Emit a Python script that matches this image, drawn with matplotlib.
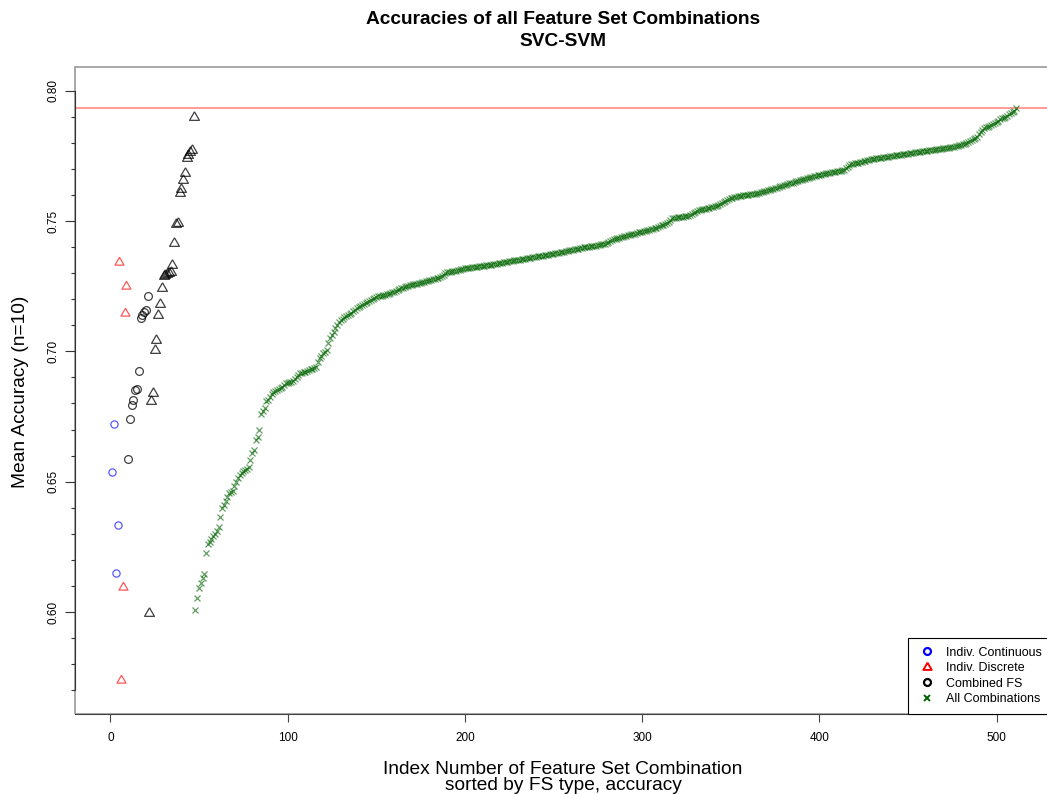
import numpy as np
import matplotlib
matplotlib.use("Agg")
import matplotlib.pyplot as plt
from matplotlib.lines import Line2D
from matplotlib.patches import Rectangle

plt.rcParams['font.family'] = ['Liberation Sans', 'DejaVu Sans']

# accuracies, in plotting order
indiv_cont = [0.6536, 0.6722, 0.6149, 0.6334]
indiv_disc = [0.7344, 0.5741, 0.6097, 0.7149, 0.7250]
comb_cont = [0.6588, 0.6742, 0.6795, 0.6815, 0.6853, 0.6857, 0.6924, 0.7128,
             0.7138, 0.7151, 0.7160, 0.7212]
comb_disc = [0.5997, 0.6808, 0.6841, 0.7007, 0.7042, 0.7138, 0.7180, 0.7244,
             0.7288, 0.7292, 0.7296, 0.7300, 0.7303, 0.7333, 0.7417, 0.7488,
             0.7491, 0.7607, 0.7622, 0.7658, 0.7686, 0.7741, 0.7754, 0.7763,
             0.7773, 0.7899]
all_combos = [
    0.6008, 0.6053, 0.6091, 0.6110, 0.6129, 0.6146, 0.6225, 0.6262, 0.6270, 0.6281,
    0.6292, 0.6300, 0.6312, 0.6325, 0.6366, 0.6398, 0.6411, 0.6425, 0.6440, 0.6456,
    0.6460, 0.6463, 0.6485, 0.6500, 0.6513, 0.6526, 0.6535, 0.6541, 0.6545, 0.6550,
    0.6558, 0.6583, 0.6609, 0.6622, 0.6660, 0.6673, 0.6698, 0.6760, 0.6771, 0.6782,
    0.6808, 0.6815, 0.6826, 0.6835, 0.6845, 0.6849, 0.6852, 0.6856, 0.6861, 0.6865,
    0.6871, 0.6877, 0.6880, 0.6882, 0.6884, 0.6888, 0.6893, 0.6903, 0.6910, 0.6916,
    0.6918, 0.6920, 0.6922, 0.6925, 0.6928, 0.6931, 0.6934, 0.6937, 0.6941, 0.6958,
    0.6975, 0.6984, 0.6993, 0.6999, 0.7005, 0.7031, 0.7050, 0.7063, 0.7076, 0.7088,
    0.7100, 0.7112, 0.7120, 0.7126, 0.7131, 0.7136, 0.7140, 0.7145, 0.7149, 0.7154,
    0.7160, 0.7165, 0.7170, 0.7174, 0.7179, 0.7183, 0.7187, 0.7191, 0.7195, 0.7198,
    0.7202, 0.7206, 0.7210, 0.7211, 0.7213, 0.7214, 0.7216, 0.7218, 0.7219, 0.7221,
    0.7223, 0.7226, 0.7229, 0.7233, 0.7236, 0.7239, 0.7242, 0.7244, 0.7247, 0.7249,
    0.7252, 0.7255, 0.7256, 0.7258, 0.7259, 0.7260, 0.7262, 0.7263, 0.7265, 0.7266,
    0.7268, 0.7270, 0.7272, 0.7274, 0.7276, 0.7278, 0.7280, 0.7282, 0.7284, 0.7288,
    0.7294, 0.7299, 0.7303, 0.7305, 0.7306, 0.7308, 0.7309, 0.7310, 0.7312, 0.7313,
    0.7315, 0.7316, 0.7318, 0.7319, 0.7320, 0.7321, 0.7322, 0.7323, 0.7324, 0.7325,
    0.7326, 0.7327, 0.7328, 0.7329, 0.7330, 0.7331, 0.7332, 0.7333, 0.7335, 0.7336,
    0.7337, 0.7338, 0.7339, 0.7340, 0.7341, 0.7343, 0.7344, 0.7345, 0.7346, 0.7348,
    0.7349, 0.7350, 0.7351, 0.7352, 0.7354, 0.7355, 0.7356, 0.7357, 0.7358, 0.7360,
    0.7361, 0.7362, 0.7363, 0.7364, 0.7365, 0.7366, 0.7367, 0.7368, 0.7370, 0.7371,
    0.7372, 0.7374, 0.7375, 0.7376, 0.7378, 0.7379, 0.7380, 0.7381, 0.7383, 0.7384,
    0.7385, 0.7387, 0.7388, 0.7390, 0.7391, 0.7392, 0.7394, 0.7395, 0.7397, 0.7399,
    0.7400, 0.7401, 0.7402, 0.7403, 0.7404, 0.7405, 0.7406, 0.7407, 0.7409, 0.7410,
    0.7412, 0.7413, 0.7414, 0.7418, 0.7422, 0.7426, 0.7430, 0.7432, 0.7434, 0.7436,
    0.7437, 0.7439, 0.7441, 0.7443, 0.7445, 0.7447, 0.7449, 0.7450, 0.7452, 0.7454,
    0.7456, 0.7458, 0.7459, 0.7461, 0.7463, 0.7465, 0.7467, 0.7468, 0.7470, 0.7472,
    0.7474, 0.7477, 0.7480, 0.7483, 0.7486, 0.7489, 0.7491, 0.7497, 0.7504, 0.7510,
    0.7512, 0.7513, 0.7514, 0.7515, 0.7516, 0.7517, 0.7518, 0.7519, 0.7521, 0.7523,
    0.7526, 0.7530, 0.7534, 0.7538, 0.7542, 0.7544, 0.7545, 0.7547, 0.7548, 0.7550,
    0.7551, 0.7553, 0.7554, 0.7556, 0.7558, 0.7561, 0.7564, 0.7568, 0.7572, 0.7576,
    0.7580, 0.7584, 0.7587, 0.7590, 0.7592, 0.7593, 0.7595, 0.7596, 0.7597, 0.7598,
    0.7599, 0.7600, 0.7601, 0.7602, 0.7603, 0.7604, 0.7605, 0.7606, 0.7608, 0.7610,
    0.7612, 0.7614, 0.7616, 0.7618, 0.7620, 0.7622, 0.7624, 0.7626, 0.7628, 0.7631,
    0.7633, 0.7636, 0.7638, 0.7640, 0.7642, 0.7644, 0.7645, 0.7647, 0.7649, 0.7652,
    0.7655, 0.7657, 0.7659, 0.7661, 0.7663, 0.7664, 0.7666, 0.7668, 0.7670, 0.7672,
    0.7674, 0.7675, 0.7677, 0.7678, 0.7680, 0.7681, 0.7683, 0.7684, 0.7685, 0.7687,
    0.7688, 0.7689, 0.7691, 0.7692, 0.7693, 0.7695, 0.7696, 0.7703, 0.7709, 0.7715,
    0.7717, 0.7719, 0.7721, 0.7722, 0.7724, 0.7726, 0.7728, 0.7730, 0.7732, 0.7734,
    0.7735, 0.7737, 0.7738, 0.7739, 0.7740, 0.7741, 0.7742, 0.7743, 0.7744, 0.7745,
    0.7746, 0.7747, 0.7748, 0.7749, 0.7751, 0.7752, 0.7753, 0.7754, 0.7755, 0.7756,
    0.7757, 0.7758, 0.7759, 0.7760, 0.7761, 0.7762, 0.7763, 0.7764, 0.7765, 0.7766,
    0.7767, 0.7768, 0.7769, 0.7770, 0.7771, 0.7772, 0.7773, 0.7774, 0.7775, 0.7776,
    0.7777, 0.7778, 0.7779, 0.7780, 0.7781, 0.7782, 0.7783, 0.7784, 0.7785, 0.7787,
    0.7788, 0.7790, 0.7792, 0.7794, 0.7797, 0.7800, 0.7803, 0.7807, 0.7811, 0.7816,
    0.7820, 0.7824, 0.7832, 0.7840, 0.7848, 0.7856, 0.7859, 0.7862, 0.7865, 0.7868,
    0.7872, 0.7876, 0.7880, 0.7885, 0.7890, 0.7894, 0.7897, 0.7900, 0.7904, 0.7910,
    0.7914, 0.7918, 0.7922, 0.7935,
]
legend_labels = ['Indiv. Continuous', 'Indiv. Discrete', 'Combined FS', 'All Combinations']

# index positions, one after another like in the R plot
n1, n2, n3, n4 = len(indiv_cont), len(indiv_disc), len(comb_cont), len(comb_disc)
x_cont = np.arange(1, 1 + n1)
x_disc = np.arange(x_cont[-1] + 1, x_cont[-1] + 1 + n2)
x_ccont = np.arange(x_disc[-1] + 1, x_disc[-1] + 1 + n3)
x_cdisc = np.arange(x_ccont[-1] + 1, x_ccont[-1] + 1 + n4)
x_all = np.arange(x_cdisc[-1] + 1, x_cdisc[-1] + 1 + len(all_combos))

# R style open triangle (pch=2)
tri = [(0, 1), (-0.866, -0.5), (0.866, -0.5), (0, 1)]

fig = plt.figure(figsize=(10.47, 7.94), dpi=100)
ax = fig.add_axes([0.0716, 0.1008, 0.9322, 0.8152])

ax.axhline(max(all_combos), color='#ff8a8a', lw=1.2, zorder=1)

ax.plot(x_cont, indiv_cont, ls='none', marker='o', ms=5.2, mfc='none',
        mec='blue', mew=0.9, alpha=0.65)
ax.plot(x_disc, indiv_disc, ls='none', marker=tri, ms=7.5, mfc='none',
        mec='red', mew=0.9, alpha=0.65)
ax.plot(x_ccont, comb_cont, ls='none', marker='o', ms=5.6, mfc='none',
        mec='black', mew=0.9, alpha=0.75)
ax.plot(x_cdisc, comb_disc, ls='none', marker=tri, ms=8.2, mfc='none',
        mec='black', mew=0.9, alpha=0.75)
ax.plot(x_all, all_combos, ls='none', marker='x', ms=4.8, mew=0.9,
        color='darkgreen', alpha=0.62)

ax.set_xlim(-20.0, 530.7)
ax.set_ylim(0.5609, 0.8092)

# axes box in grey, axis lines darker
for s in ax.spines.values():
    s.set_visible(False)
ax.add_patch(Rectangle((0, 0), 1, 1, transform=ax.transAxes, fill=False,
                       edgecolor='#9a9a9a', lw=1.2, clip_on=False, zorder=0))
ax.spines['left'].set_visible(True)
ax.spines['left'].set_color('#333333')
ax.spines['left'].set_bounds(0.57, 0.80)
ax.spines['bottom'].set_visible(True)
ax.spines['bottom'].set_color('#444444')

ax.set_xticks([0, 100, 200, 300, 400, 500])
ax.set_yticks([0.60, 0.65, 0.70, 0.75, 0.80])
ax.set_yticklabels(['0.60', '0.65', '0.70', '0.75', '0.80'])
ax.set_yticks(np.arange(0.57, 0.8001, 0.01), minor=True)
ax.tick_params(axis='x', length=6, width=0.8, color='#444444', pad=7, labelsize=8.5)
ax.tick_params(axis='y', which='major', length=7, width=0.8, color='#333333',
               pad=4, labelsize=8.5)
ax.tick_params(axis='y', which='minor', length=3, width=0.8, color='#333333')
for lab in ax.get_yticklabels():
    lab.set_rotation(90)
    lab.set_va('center')

fig.text(563 / 1047, 1 - 20 / 794, 'Accuracies of all Feature Set Combinations',
         ha='center', va='center', fontsize=13.8, fontweight='bold')
fig.text(563 / 1047, 1 - 42 / 794, 'SVC-SVM', ha='center', va='center',
         fontsize=13.8, fontweight='bold')
fig.text(563 / 1047, 1 - 770 / 794, 'Index Number of Feature Set Combination',
         ha='center', va='center', fontsize=13.8)
fig.text(563 / 1047, 1 - 785 / 794, 'sorted by FS type, accuracy',
         ha='center', va='center', fontsize=13.8)
fig.text(21 / 1047, 1 - 392 / 794, 'Mean Accuracy (n=10)', rotation=90,
         ha='center', va='center', fontsize=13.8)

handles = [
    Line2D([], [], ls='none', marker='o', ms=5, mfc='none', mec='blue', mew=1.6),
    Line2D([], [], ls='none', marker=tri, ms=7, mfc='none', mec='red', mew=1.4),
    Line2D([], [], ls='none', marker='o', ms=5, mfc='none', mec='black', mew=1.6),
    Line2D([], [], ls='none', marker='x', ms=5, color='darkgreen', mew=1.4),
]
leg = ax.legend(handles, legend_labels, loc='lower right', bbox_to_anchor=(1, 0),
                borderaxespad=0, fontsize=9, frameon=True, fancybox=False,
                edgecolor='black', framealpha=1, handlelength=1.6,
                handletextpad=0.75, borderpad=0.7, labelspacing=0.28)
leg.get_frame().set_linewidth(0.8)

fig.savefig('out.png', dpi=100)
